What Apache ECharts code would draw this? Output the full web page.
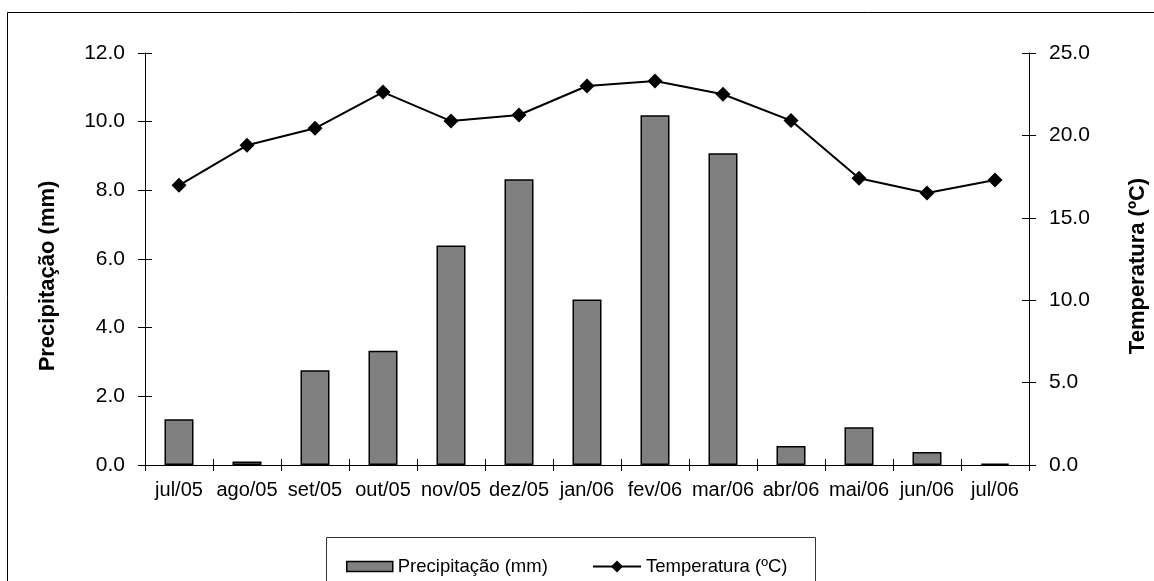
<!DOCTYPE html>
<html>
<head>
<meta charset="utf-8">
<script src="https://cdn.jsdelivr.net/npm/echarts@6/dist/echarts.min.js"></script>
<style>
html,body{margin:0;padding:0;background:#fff;}
#chart{width:1154px;height:581px;}
</style>
</head>
<body>
<div id="chart"></div>
<script>
var categories = ['jul/05','ago/05','set/05','out/05','nov/05','dez/05','jan/06','fev/06','mar/06','abr/06','mai/06','jun/06','jul/06'];
var precipitacao = [1.33, 0.10, 2.76, 3.33, 6.39, 8.32, 4.82, 10.19, 9.08, 0.55, 1.10, 0.38, 0.04];
var temperatura = [16.97, 19.4, 20.43, 22.63, 20.87, 21.24, 23.0, 23.3, 22.5, 20.9, 17.4, 16.5, 17.3];
var leftTicks = [0, 12, 2];
var rightTicks = [0, 25, 5];
var nomePrec = 'Precipitação (mm)';
var nomeTemp = 'Temperatura (ºC)';

var FONT = '"Liberation Sans", Arial, sans-serif';
var chart = echarts.init(document.getElementById('chart'), null, {renderer:'canvas'});
var fmt = function(v){ return v.toFixed(1); };
var grid = {left:145, right:125, top:53, bottom:116, containLabel:false};

chart.setOption({
  animation:false,
  backgroundColor:'#fff',
  grid:grid,
  legend:[
    {data:[{name:nomePrec, icon:'rect'}], left:346, top:557, padding:0, itemWidth:46, itemHeight:10,
     itemStyle:{borderWidth:1.5, borderColor:'#000'},
     textStyle:{fontFamily:FONT, fontSize:18.5, color:'#000'}, selectedMode:false},
    {data:[nomeTemp], left:592, top:557, padding:0, itemWidth:48, itemHeight:15,
     textStyle:{fontFamily:FONT, fontSize:18.5, color:'#000'}, selectedMode:false}
  ],
  xAxis:[
    {type:'category', data:categories, boundaryGap:true, position:'bottom',
     axisLine:{lineStyle:{color:'#000', width:1}},
     axisTick:{show:true, length:6, inside:false, lineStyle:{color:'#000'}},
     axisLabel:{fontFamily:FONT, fontSize:20, color:'#000', margin:15, interval:0},
     splitLine:{show:false}},
    {type:'category', data:categories, boundaryGap:true, position:'bottom',
     axisLine:{show:false},
     axisTick:{show:true, length:6, inside:true, lineStyle:{color:'#000'}},
     axisLabel:{show:false}, splitLine:{show:false}}
  ],
  yAxis:[
    {type:'value', position:'left', min:leftTicks[0], max:leftTicks[1], interval:leftTicks[2],
     axisLine:{show:true, lineStyle:{color:'#000', width:1}},
     axisTick:{show:true, length:7, lineStyle:{color:'#000'}},
     axisLabel:{fontFamily:FONT, fontSize:21, color:'#000', margin:20, formatter:fmt},
     splitLine:{show:false}},
    {type:'value', position:'right', min:rightTicks[0], max:rightTicks[1], interval:rightTicks[2],
     axisLine:{show:true, lineStyle:{color:'#000', width:1}},
     axisTick:{show:true, length:7, lineStyle:{color:'#000'}},
     axisLabel:{fontFamily:FONT, fontSize:21, color:'#000', margin:20, formatter:fmt},
     splitLine:{show:false}},
    {type:'value', position:'left', min:leftTicks[0], max:leftTicks[1], interval:leftTicks[2],
     axisLine:{show:false}, axisTick:{show:true, inside:true, length:7, lineStyle:{color:'#000'}},
     axisLabel:{show:false}, splitLine:{show:false}},
    {type:'value', position:'right', min:rightTicks[0], max:rightTicks[1], interval:rightTicks[2],
     axisLine:{show:false}, axisTick:{show:true, inside:true, length:7, lineStyle:{color:'#000'}},
     axisLabel:{show:false}, splitLine:{show:false}}
  ],
  series:[
    {name:nomePrec, type:'bar', xAxisIndex:0, yAxisIndex:0, data:precipitacao, barWidth:29,
     itemStyle:{color:'#808080', borderColor:'#000', borderWidth:1.5}},
    {name:nomeTemp, type:'line', xAxisIndex:0, yAxisIndex:1, data:temperatura,
     symbol:'diamond', symbolSize:15, showSymbol:true,
     lineStyle:{color:'#000', width:2}, itemStyle:{color:'#000'}}
  ],
  graphic:[
    {type:'rect', shape:{x:7.5, y:12.5, width:1170, height:600}, style:{fill:null, stroke:'#000', lineWidth:1}, silent:true},
    {type:'rect', shape:{x:326.5, y:537.5, width:489, height:80}, style:{fill:null, stroke:'#333', lineWidth:1}, silent:true, z:-1},
    {type:'text', x:48, y:276, rotation:Math.PI/2,
     style:{text:nomePrec, font:'bold 22px ' + FONT, fill:'#000', align:'center', verticalAlign:'middle'}},
    {type:'text', x:1138, y:266, rotation:Math.PI/2,
     style:{text:nomeTemp, font:'bold 22px ' + FONT, fill:'#000', align:'center', verticalAlign:'middle'}}
  ]
});
</script>
</body>
</html>
